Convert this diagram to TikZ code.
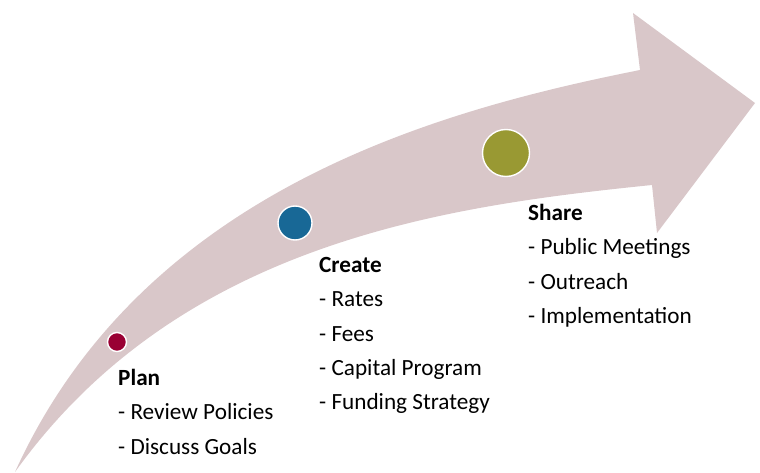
\documentclass[tikz,border=0pt]{standalone}
\usepackage{fontspec}
\setmainfont{Carlito}
\usepackage{tikz}
\definecolor{bandpink}{RGB}{217,199,201}
\definecolor{planred}{RGB}{153,0,51}
\definecolor{createblue}{RGB}{24,104,150}
\definecolor{shareolive}{RGB}{153,153,51}
\begin{document}
\begin{tikzpicture}[x=1pt,y=-1pt,
    dot/.style={circle,draw=white,line width=1.4pt,inner sep=0pt},
    steptext/.style={anchor=north west,inner sep=0pt,align=left,
      font=\fontsize{23.2}{34.3}\selectfont}]
  \useasboundingbox (0,0) rectangle (760,473);
  %
  % Curved arrow
  \fill[bandpink] (15,472) .. controls (143,190) and (439,110) .. (640,70)
    -- (633,13) -- (755,103) -- (657,233) -- (652,185)
    .. controls (446,206) and (180,242) .. (15,472) -- cycle;
  %
  % Stage markers
  \node[dot,fill=planred,minimum size=19pt] (plandot) at (117,342) {};
  \node[dot,fill=createblue,minimum size=34pt] (createdot) at (295,223) {};
  \node[dot,fill=shareolive,minimum size=47pt] (sharedot) at (506,153) {};
  %
  % Stage texts (top edge of each block)
  \node[steptext] (plantext) at (118,369)
    {\textbf{Plan}\\- Review Policies\\- Discuss Goals};
  \node[steptext] (createtext) at (319,257)
    {\textbf{Create}\\- Rates\\- Fees\\- Capital Program\\- Funding Strategy};
  \node[steptext] (sharetext) at (528,204)
    {\textbf{Share}\\- Public Meetings\\- Outreach\\- Implementation};
  %
\end{tikzpicture}
\end{document}
